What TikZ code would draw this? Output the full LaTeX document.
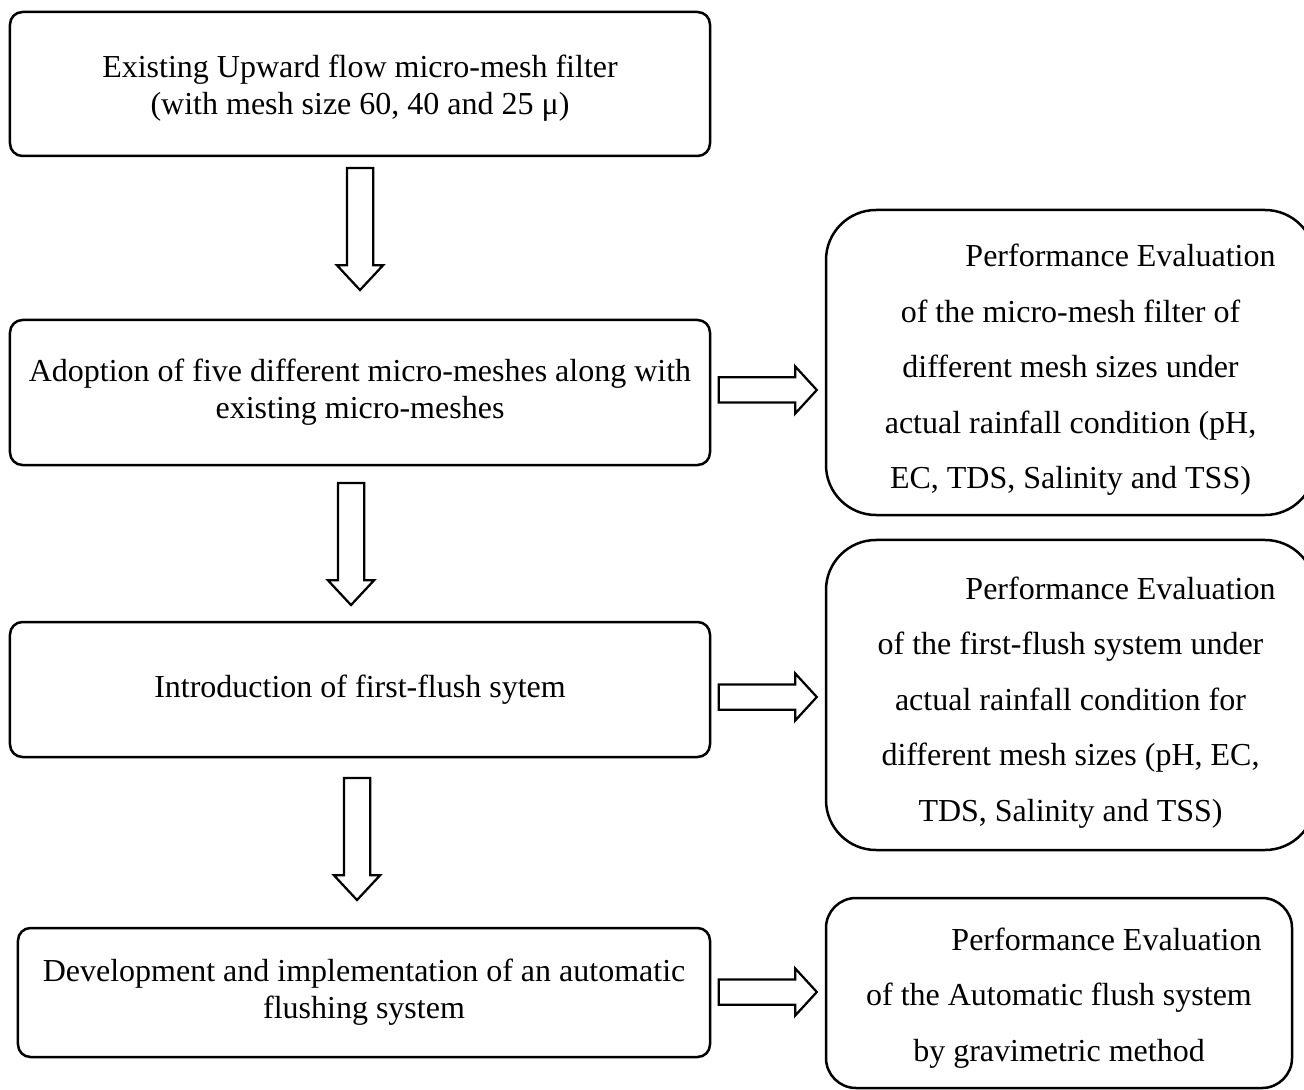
\documentclass[tikz,border=0pt]{standalone}
\usepackage{fontspec}
\setmainfont{Liberation Serif}
\usetikzlibrary{shapes.arrows}

\begin{document}
\begin{tikzpicture}
[x=0.4pt,y=-0.4pt,
stepbox/.style={draw=black,line width=1pt,rounded corners=5pt,align=center,inner sep=0pt,font=\fontsize{12.8}{14.8}\selectfont},
evalbox/.style={draw=black,line width=1pt,rounded corners=20pt,align=center,inner sep=0pt,font=\fontsize{12.8}{22.2}\selectfont},
downarrow/.style={draw=black,line width=0.9pt,single arrow,shape border rotate=270,inner sep=4.8pt,minimum height=48.8pt,minimum width=18pt,single arrow head extend=4pt,single arrow tip angle=86},
rightarrow/.style={draw=black,line width=0.9pt,single arrow,inner sep=4.6pt,minimum height=39.2pt,minimum width=18pt,single arrow head extend=4.4pt,single arrow tip angle=95}]
\useasboundingbox (0,0) rectangle (1304,1090);

\node[stepbox,minimum width=280pt,minimum height=57.6pt] (b1) at (360,84) {\rule{0pt}{12pt}Existing Upward flow micro-mesh filter\\(with mesh size 60, 40 and 25 μ)};
\node[stepbox,minimum width=280pt,minimum height=58pt] (b2) at (360,392.5) {Adoption of five different micro-meshes along with\\existing micro-meshes};
\node[stepbox,minimum width=280pt,minimum height=54pt] (b3) at (360,689.5) {Introduction of first-flush sytem};
\node[stepbox,minimum width=276.8pt,minimum height=51.6pt] (b4) at (364,992.5) {Development and implementation of an automatic\\flushing system};

\node[evalbox,minimum width=195.6pt,minimum height=122pt] (e1) at (1070.5,362.5) {\rule{0pt}{15pt}\hspace*{40pt}Performance Evaluation\\of the micro-mesh filter of\\different mesh sizes under\\actual rainfall condition (pH,\\EC, TDS, Salinity and TSS)};
\node[evalbox,minimum width=195.6pt,minimum height=124pt] (e2) at (1070.5,695) {\rule{0pt}{15pt}\hspace*{40pt}Performance Evaluation\\of the first-flush system under\\actual rainfall condition for\\different mesh sizes (pH, EC,\\TDS, Salinity and TSS)};
\node[evalbox,rounded corners=12pt,minimum width=186.4pt,minimum height=76pt] (e3) at (1059,993) {\rule{0pt}{13pt}\hspace*{38pt}Performance Evaluation\\of the Automatic flush system\\by gravimetric method};

\node[downarrow] (d1) at (360,222) {};
\node[downarrow] (d2) at (351,537) {};
\node[downarrow] (d3) at (357,832) {};

\node[rightarrow] (r1) at (762,390) {};
\node[rightarrow] (r2) at (762,697) {};
\node[rightarrow] (r3) at (762,992) {};
\end{tikzpicture}
\end{document}
